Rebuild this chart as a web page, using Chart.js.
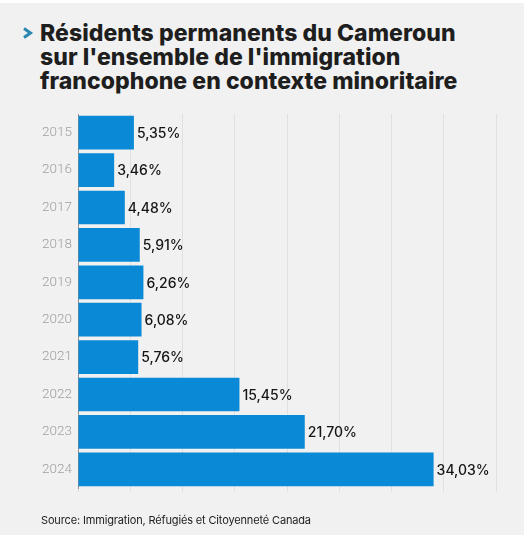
<!DOCTYPE html>
<html lang="fr">
<head>
<meta charset="utf-8">
<script src="https://cdn.jsdelivr.net/npm/chart.js@4.4.1/dist/chart.umd.min.js"></script>
<style>
  html, body { margin: 0; padding: 0; }
  body {
    width: 524px; height: 540px; position: relative; overflow: hidden;
    background: #ffffff;
  }
  #fond {
    position: absolute; left: 0; top: 3px; width: 524px; height: 532px;
    background: #f1f1f1;
  }
  #titre {
    position: absolute; left: 40px; top: 21px; width: 484px;
    font-family: Inter, sans-serif; font-weight: 800; font-size: 23px;
    line-height: 24px; color: #1e1e1e; letter-spacing: 0.05px;
  }
  #chevron {
    position: absolute; left: 22px; top: 27px; width: 12px; height: 12px;
  }
  #source {
    position: absolute; left: 41px; top: 513px;
    font-family: Inter, sans-serif; font-size: 11px; color: #222;
    letter-spacing: -0.15px;
  }
  #graphique { position: absolute; left: 0; top: 0; }
</style>
</head>
<body>
<div id="fond"></div>
<svg id="chevron" viewBox="0 0 12 12"><polyline points="2,1.5 8.5,6 2,10.5" fill="none" stroke="#2a86b2" stroke-width="3"/></svg>
<div id="titre">Résidents permanents du Cameroun<br>sur l'ensemble de l'immigration<br>francophone en contexte minoritaire</div>
<canvas id="graphique" width="524" height="540"></canvas>
<div id="source">Source: Immigration, Réfugiés et Citoyenneté Canada</div>
<script>
// Données
const annees = ["2015", "2016", "2017", "2018", "2019", "2020", "2021", "2022", "2023", "2024"];
const pourcentages = [5.35, 3.46, 4.48, 5.91, 6.26, 6.08, 5.76, 15.45, 21.70, 34.03];
const graduations = [0, 5, 10, 15, 20, 25, 30, 35, 40];

// Étiquettes de valeur au bout des barres
const etiquettesValeurs = {
    id: "etiquettesValeurs",
    afterDatasetsDraw(chart) {
        const ctx = chart.ctx;
        const meta = chart.getDatasetMeta(0);
        ctx.save();
        ctx.font = "500 14px Inter, sans-serif";
        ctx.fillStyle = "#151515";
        ctx.textBaseline = "middle";
        ctx.textAlign = "left";
        meta.data.forEach((barre, i) => {
            const texte = pourcentages[i].toFixed(2).replace(".", ",") + "%";
            ctx.fillText(texte, barre.x + 3, barre.y + 1);
        });
        ctx.restore();
    }
};

const ctx = document.getElementById("graphique").getContext("2d");
new Chart(ctx, {
    type: "bar",
    data: {
        labels: annees,
        datasets: [{
            data: pourcentages,
            backgroundColor: "#0a8ad6",
            borderWidth: 0,
            categoryPercentage: 1,
            barPercentage: 0.9
        }]
    },
    options: {
        indexAxis: "y",
        responsive: false,
        animation: false,
        layout: { padding: { top: 114, bottom: 48, left: 0, right: 28 } },
        plugins: { legend: { display: false }, tooltip: { enabled: false } },
        scales: {
            x: {
                min: 0,
                max: 40,
                afterBuildTicks(scale) {
                    scale.ticks = graduations.map(v => ({ value: v }));
                },
                ticks: { display: false },
                grid: {
                    color: "#e0e0e0",
                    lineWidth: 1,
                    drawTicks: true,
                    tickLength: 4
                },
                border: { display: false }
            },
            y: {
                afterFit(scale) { scale.width = 78; },
                ticks: {
                    padding: 6,
                    color: "#a0a0a0",
                    font: { family: "Roboto, sans-serif", size: 13.5, weight: "300" }
                },
                grid: { display: false, drawTicks: false },
                border: { display: true, color: "#8f8f8f", width: 1 }
            }
        }
    },
    plugins: [etiquettesValeurs]
});
</script>
</body>
</html>
